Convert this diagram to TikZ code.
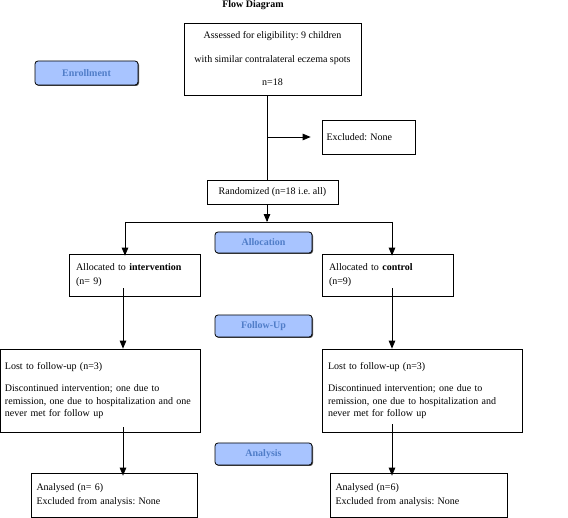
\documentclass[tikz,border=0pt]{standalone}
\usepackage{fontspec}
\setmainfont{Liberation Serif}
\usetikzlibrary{arrows,shadows}

\definecolor{stagefill}{RGB}{168,196,255}
\definecolor{stagetext}{RGB}{80,125,200}

\begin{document}
\frenchspacing
\begin{tikzpicture}[x=1pt, y=-1pt, line width=0.8pt, >=triangle 45,
  font=\fontsize{10}{14}\selectfont,
  box/.style={draw, rectangle, inner sep=0pt},
  stage/.style={draw, rounded corners=3pt, fill=stagefill, text=stagetext,
    font=\fontsize{10}{12}\selectfont\bfseries, inner sep=0pt,
    drop shadow={shadow xshift=1pt, shadow yshift=-1pt, fill=black!70, opacity=1}}]
  \useasboundingbox (0,0) rectangle (568,518);

  \node[font=\fontsize{10}{12}\selectfont\bfseries] (title) at (253,5) {Flow Diagram};

  \node[box, minimum width=177, minimum height=72, align=center,
    font=\fontsize{10}{23.5}\selectfont] (assess) at (272.5,59)
    {Assessed for eligibility: 9 children\\with similar contralateral eczema spots\\n=18};
  \node[box, minimum width=93, minimum height=34, text width=84, align=left] (excl) at (368.5,137)
    {Excluded: None\\[8pt]};
  \node[box, minimum width=131, minimum height=24] (rand) at (272.5,192) {Randomized (n=18 i.e. all)};

  \node[box, minimum width=131, minimum height=42, text width=117, align=left] (inter) at (134.5,275)
    {Allocated to \textbf{intervention}\\ (n= 9)};
  \node[box, minimum width=131, minimum height=42, text width=117, align=left] (ctrl) at (387.5,275)
    {Allocated to \textbf{control}\\ (n=9)};

  \node[box, minimum width=200, minimum height=83, text width=190, align=left,
    font=\fontsize{10}{12.5}\selectfont] (lostl) at (100,390.5)
    {Lost to follow-up (n=3)\\[10pt]Discontinued intervention; one due to\\remission, one due to hospitalization and one\\never met for follow up\\[12pt]};
  \node[box, minimum width=200, minimum height=83, text width=188, align=left,
    font=\fontsize{10}{12.5}\selectfont] (lostr) at (422,390.5)
    {Lost to follow-up (n=3)\\[10pt]Discontinued intervention; one due to\\remission, one due to hospitalization and\\never met for follow up\\[12pt]};

  \node[box, minimum width=166, minimum height=44, text width=155, align=left] (anl) at (114,495)
    {Analysed (n= 6)\\Excluded from analysis: None};
  \node[box, minimum width=177, minimum height=44, text width=166, align=left] (anr) at (418.5,495)
    {Analysed (n=6)\\Excluded from analysis: None};

  \node[stage, minimum width=103, minimum height=24] (enrol) at (86.5,73) {Enrollment};
  \node[stage, minimum width=97, minimum height=21] (alloc) at (263.5,242.5) {Allocation};
  \node[stage, minimum width=97, minimum height=22] (follow) at (263.5,326) {Follow-Up};
  \node[stage, minimum width=97, minimum height=22] (analysis) at (263.5,454) {Analysis};

  \coordinate (spine) at (267,222);
  \coordinate (splitl) at (125,222);
  \coordinate (splitr) at (392,222);
  \draw (assess.south -| spine) -- (rand.north -| spine);
  \draw[->] (spine |- excl.west) -- ([xshift=-11]excl.west);
  \draw[->] (rand.south -| spine) -- (spine);
  \draw (splitl) -- (splitr);
  \draw[->] (splitl) -- ([yshift=-2]inter.north -| splitl);
  \draw[->] (splitr) -- ([yshift=-2]ctrl.north -| splitr);
  \draw[->] ([yshift=8]inter.south -| 123,0) -- (lostl.north -| 123,0);
  \draw[->] ([yshift=8]ctrl.south -| splitr) -- (lostr.north -| splitr);
  \draw[->] ([yshift=5]lostl.south -| 123,0) -- ([yshift=-3]anl.north -| 123,0);
  \draw[->] ([yshift=8]lostr.south -| splitr) -- ([yshift=-3]anr.north -| splitr);
\end{tikzpicture}
\end{document}
